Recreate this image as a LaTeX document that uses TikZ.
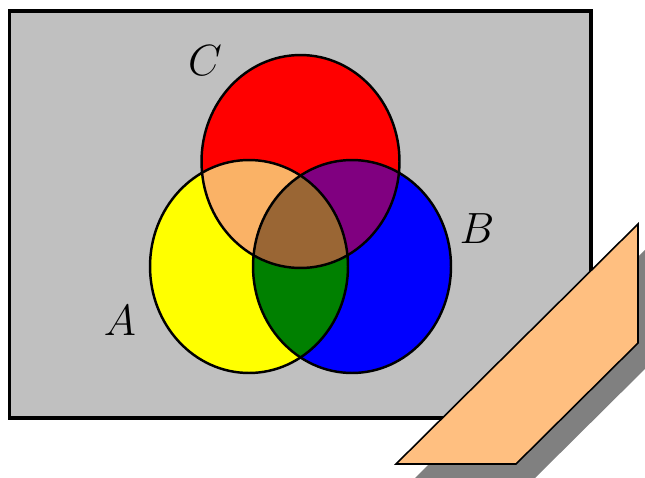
\documentclass[tikz,border=0pt]{standalone}
\usepackage{tikz}
\definecolor{bgray}{RGB}{192,192,192}
\definecolor{yel}{RGB}{255,255,0}
\definecolor{bl}{RGB}{0,0,255}
\definecolor{rd}{RGB}{255,0,0}
\definecolor{peach}{RGB}{250,178,102}
\definecolor{brownish}{RGB}{154,102,52}
\definecolor{purp}{RGB}{128,0,128}
\definecolor{grn}{RGB}{0,128,0}
\definecolor{para}{RGB}{255,191,128}
\definecolor{shadowgray}{RGB}{128,128,128}
\begin{document}
\begin{tikzpicture}[x=0.02cm,y=-0.02cm,
  setlabel/.style={inner sep=0pt,font=\fontsize{25}{30}\selectfont},
  ell/.style={x radius=1.98cm,y radius=2.13cm},
  outline/.style={draw=black,line width=1.4pt}]
\useasboundingbox (0,0) rectangle (645,477);
% background box
\draw[fill=bgray,line width=2pt] (9.5,11) rectangle (591,418);
% centres
\coordinate (ca) at (249,266.5);
\coordinate (cb) at (352,266.5);
\coordinate (cc) at (300.5,161.5);
% base fills
\fill[yel] (ca) ellipse [ell];
\fill[bl] (cb) ellipse [ell];
\fill[rd] (cc) ellipse [ell];
% pairwise intersections
\begin{scope}
  \clip (ca) ellipse [ell];
  \fill[grn] (cb) ellipse [ell];
\end{scope}
\begin{scope}
  \clip (ca) ellipse [ell];
  \fill[peach] (cc) ellipse [ell];
\end{scope}
\begin{scope}
  \clip (cb) ellipse [ell];
  \fill[purp] (cc) ellipse [ell];
\end{scope}
\begin{scope}
  \clip (ca) ellipse [ell];
  \clip (cb) ellipse [ell];
  \fill[brownish] (cc) ellipse [ell];
\end{scope}
% outlines
\draw[outline] (ca) ellipse [ell];
\draw[outline] (cb) ellipse [ell];
\draw[outline] (cc) ellipse [ell];
% labels
\node[setlabel] (la) at (120,321) {$A$};
\node[setlabel] (lb) at (477,229) {$B$};
\node[setlabel] (lc) at (205,61) {$C$};
% parallelogram with shadow
\fill[shadowgray] (412,481) -- (532,481) -- (654,360) -- (654,241) -- cycle;
\draw[fill=para,line width=0.9pt,line join=miter] (396,464) -- (516,464) -- (638,343) -- (638,224) -- cycle;
\end{tikzpicture}
\end{document}
